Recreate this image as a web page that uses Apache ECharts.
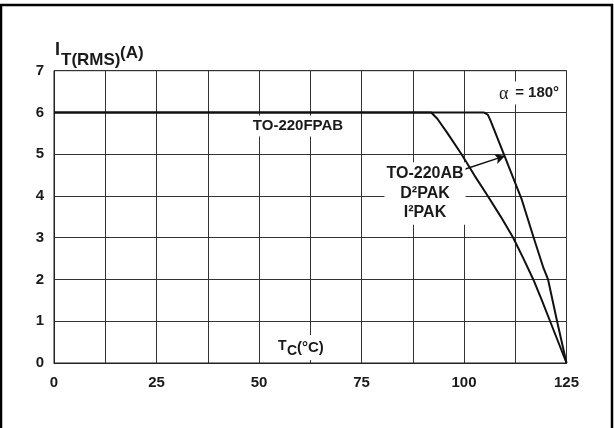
<!DOCTYPE html>
<html>
<head>
<meta charset="utf-8">
<script src="https://cdn.jsdelivr.net/npm/echarts@6/dist/echarts.min.js"></script>
<style>html,body{margin:0;padding:0;background:#fff}#c{width:614px;height:428px}</style>
</head>
<body>
<div id="c"></div>
<script>
// TO-220FPAB (left curve)
const fpabX = [0, 92, 93.5, 96, 99.4, 102.5, 105.8, 109, 112, 114.5, 116.9, 119, 121, 125];
const fpabY = [6, 6, 5.85, 5.5, 5.0, 4.5, 4.0, 3.5, 3.0, 2.5, 2.0, 1.5, 1.0, 0];
// TO-220AB / D2PAK / I2PAK (right curve)
const abX = [0, 104.8, 105.8, 106.5, 110, 114.1, 117.0, 119.4, 120.5, 122.7, 125];
const abY = [6, 6, 5.95, 5.8, 4.93, 3.91, 3.0, 2.27, 2.0, 1.0, 0];
// arrow from label to curve
const arrowFrom = [99.8, 4.63];
const arrowTo = [110.0, 4.96];
const xTickLabels = ['0', '25', '50', '75', '100', '125'];
const yTickLabels = ['0', '1', '2', '3', '4', '5', '6', '7'];

const zip = (xs, ys) => xs.map((x, i) => [x, ys[i]]);
const FONT = 'Liberation Sans, Arial, sans-serif';
const TXT = '#1a1a1a';

const chart = echarts.init(document.getElementById('c'), null, {renderer: 'canvas'});
chart.setOption({
  animation: false,
  backgroundColor: '#fff',
  grid: {left: 54, right: 47.5, top: 70.7, bottom: 65, show: true, borderColor: '#222', borderWidth: 1, containLabel: false},
  xAxis: {
    type: 'value', min: 0, max: 125, interval: 12.5,
    axisLine: {show: true, lineStyle: {color: '#222', width: 1}},
    axisTick: {show: false},
    splitLine: {show: true, lineStyle: {color: '#333', width: 1}},
    axisLabel: {
      margin: 12, color: TXT, fontFamily: FONT, fontWeight: 'bold', fontSize: 15,
      formatter: v => (Math.abs(v % 25) < 1e-6 ? xTickLabels[Math.round(v / 25)] : '')
    }
  },
  yAxis: {
    type: 'value', min: 0, max: 7, interval: 1,
    axisLine: {show: true, lineStyle: {color: '#222', width: 1}},
    axisTick: {show: false},
    splitLine: {show: true, lineStyle: {color: '#333', width: 1}},
    axisLabel: {
      margin: 10, color: TXT, fontFamily: FONT, fontWeight: 'bold', fontSize: 15,
      formatter: v => yTickLabels[Math.round(v)]
    }
  },
  series: [
    {
      name: 'TO-220FPAB', type: 'line', data: zip(fpabX, fpabY),
      showSymbol: false, symbol: 'none', z: 3,
      lineStyle: {color: '#111', width: 2}
    },
    {
      name: 'TO-220AB', type: 'line', data: zip(abX, abY),
      showSymbol: false, symbol: 'none', z: 3,
      lineStyle: {color: '#111', width: 2},
      markLine: {
        silent: true, symbol: ['none', 'arrow'], symbolSize: [8, 10],
        label: {show: false},
        lineStyle: {color: '#111', width: 1.5, type: 'solid'},
        data: [[{coord: arrowFrom}, {coord: arrowTo}]]
      }
    }
  ],
  graphic: [
    {type: 'rect', shape: {x: 1, y: 5, width: 611, height: 440}, style: {fill: 'none', stroke: '#000', lineWidth: 2.5}, z: 10},
    // y-axis title I_T(RMS)(A)
    {type: 'text', x: 55, y: 59, z: 20, style: {text: 'I', fontFamily: FONT, fontWeight: 'bold', fontSize: 18, fill: TXT, textVerticalAlign: 'bottom'}},
    {type: 'text', x: 61, y: 69, z: 20, style: {text: 'T(RMS)', fontFamily: FONT, fontWeight: 'bold', fontSize: 17, fill: TXT, textVerticalAlign: 'bottom'}},
    {type: 'text', x: 120, y: 62, z: 20, style: {text: '(A)', fontFamily: FONT, fontWeight: 'bold', fontSize: 17, fill: TXT, textVerticalAlign: 'bottom'}},
    // x-axis title T_C(°C)
    {type: 'rect', shape: {x: 275, y: 335, width: 56, height: 25}, style: {fill: '#fff'}, z: 15},
    {type: 'text', x: 278, y: 353, z: 20, style: {text: 'T', fontFamily: FONT, fontWeight: 'bold', fontSize: 14, fill: TXT, textVerticalAlign: 'bottom'}},
    {type: 'text', x: 287, y: 358, z: 20, style: {text: 'C', fontFamily: FONT, fontWeight: 'bold', fontSize: 14, fill: TXT, textVerticalAlign: 'bottom'}},
    {type: 'text', x: 297, y: 355, z: 20, style: {text: '(°C)', fontFamily: FONT, fontWeight: 'bold', fontSize: 15, fill: TXT, textVerticalAlign: 'bottom'}},
    // TO-220FPAB label
    {type: 'text', x: 298, y: 126, z: 20, style: {text: 'TO-220FPAB', fontFamily: FONT, fontWeight: 'bold', fontSize: 15, fill: TXT, textAlign: 'center', textVerticalAlign: 'middle', backgroundColor: '#fff', padding: [3, 4]}},
    // alpha label
    {type: 'text', x: 497, y: 94, z: 20, style: {text: 'α', fontFamily: 'Liberation Serif, serif', fontSize: 18, fill: TXT, textVerticalAlign: 'middle', backgroundColor: '#fff', padding: [4, 2]}},
    {type: 'text', x: 509, y: 93, z: 20, style: {text: ' = 180°', fontFamily: FONT, fontWeight: 'bold', fontSize: 15, fill: TXT, textVerticalAlign: 'middle', backgroundColor: '#fff', padding: [4, 2]}},
    // TO-220AB label block
    {type: 'text', x: 425, y: 193.5, z: 20, style: {text: 'TO-220AB\nD²PAK\nI²PAK', fontFamily: FONT, fontWeight: 'bold', fontSize: 16, lineHeight: 19.5, fill: TXT, textAlign: 'center', textVerticalAlign: 'middle', backgroundColor: '#fff', padding: [2, 2]}}
  ]
});
</script>
</body>
</html>
